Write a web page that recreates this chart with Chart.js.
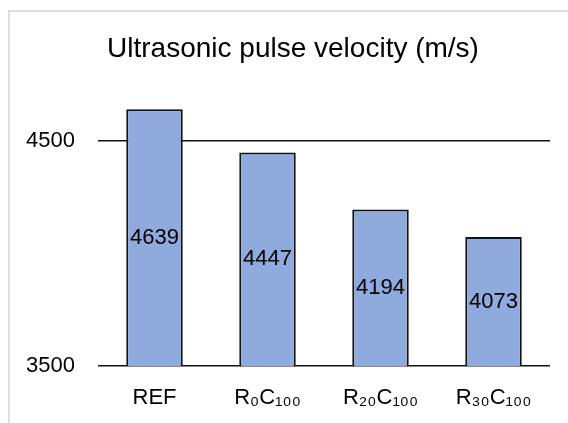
<!DOCTYPE html>
<html>
<head>
<meta charset="utf-8">
<script src="https://cdn.jsdelivr.net/npm/chart.js@4/dist/chart.umd.min.js"></script>
<style>
    html, body { margin: 0; padding: 0; background: #fff; overflow: hidden; }
    #wrap { position: relative; width: 568px; height: 423px; }
    #frame {
        position: absolute; left: 8px; top: 10px; width: 600px; height: 500px;
        border-left: 2px solid #dedede; border-top: 2px solid #dedede;
    }
    #c { position: absolute; left: 0; top: 0; }
</style>
</head>
<body>
<div id="wrap">
    <div id="frame"></div>
    <canvas id="c" width="568" height="423"></canvas>
</div>
<script>
const categories = ["REF", "R\u2080C\u2081\u2080\u2080", "R\u2082\u2080C\u2081\u2080\u2080", "R\u2083\u2080C\u2081\u2080\u2080"];
const velocity = [4639, 4447, 4194, 4073];
const yTicks = [3500, 4500];
const chartTitle = "Ultrasonic pulse velocity (m/s)";

const labelFont = "'Liberation Sans', Arial, sans-serif";

// value written in the middle of each bar
const barValueLabels = {
    id: "barValueLabels",
    afterDraw(chart) {
        const ctx = chart.ctx;
        const xs = chart.scales.x;
        const ys = chart.scales.y;
        ctx.save();
        try {
            ctx.font = "22px " + labelFont;
            ctx.fillStyle = "#000";
            ctx.textAlign = "center";
            ctx.textBaseline = "middle";
            velocity.forEach((v, i) => {
                const top = ys.getPixelForValue(v);
                const bottom = ys.getPixelForValue(ys.min);
                ctx.fillText(String(v), xs.getPixelForValue(i), (top + bottom) / 2);
            });
        } catch (err) {
            ctx.fillStyle = "red";
            ctx.font = "12px sans-serif";
            ctx.textAlign = "left";
            ctx.fillText(err.message, 10, 20);
        }
        ctx.restore();
    }
};

// title is centred on the chart frame, not on the canvas
const titleShift = {
    id: "titleShift",
    afterLayout(chart) {
        if (chart.titleBlock) {
            chart.titleBlock.left = 36;
            chart.titleBlock.right = 550;
        }
    }
};

new Chart(document.getElementById("c"), {
    type: "bar",
    data: {
        labels: categories,
        datasets: [{
            data: velocity,
            backgroundColor: "#8FAADC",
            borderColor: "#111",
            borderWidth: 2,
            borderSkipped: false,
            barPercentage: 0.5,
            categoryPercentage: 1
        }]
    },
    options: {
        responsive: false,
        animation: false,
        layout: { padding: { left: 0, right: 18, top: 0, bottom: 0 } },
        plugins: {
            legend: { display: false },
            tooltip: { enabled: false },
            title: {
                display: true,
                text: chartTitle,
                color: "#000",
                font: { family: labelFont, size: 28, weight: "normal" },
                padding: { top: 32, bottom: 30 }
            }
        },
        scales: {
            x: {
                grid: { display: false, drawTicks: false },
                border: { display: false },
                ticks: {
                    color: "#000",
                    padding: 19,
                    font: { family: labelFont, size: 22 },
                    maxRotation: 0
                },
                afterFit(scale) { scale.height = 57; }
            },
            y: {
                min: 3500,
                max: 4700,
                grid: { color: "#111", lineWidth: 1.5, drawTicks: false },
                border: { display: false },
                ticks: {
                    color: "#000",
                    padding: 23,
                    font: { family: labelFont, size: 22 },
                    callback: v => String(v)
                },
                afterBuildTicks(scale) { scale.ticks = yTicks.map(v => ({ value: v })); },
                afterFit(scale) { scale.width = 98; }
            }
        }
    },
    plugins: [barValueLabels, titleShift]
});
</script>
</body>
</html>
